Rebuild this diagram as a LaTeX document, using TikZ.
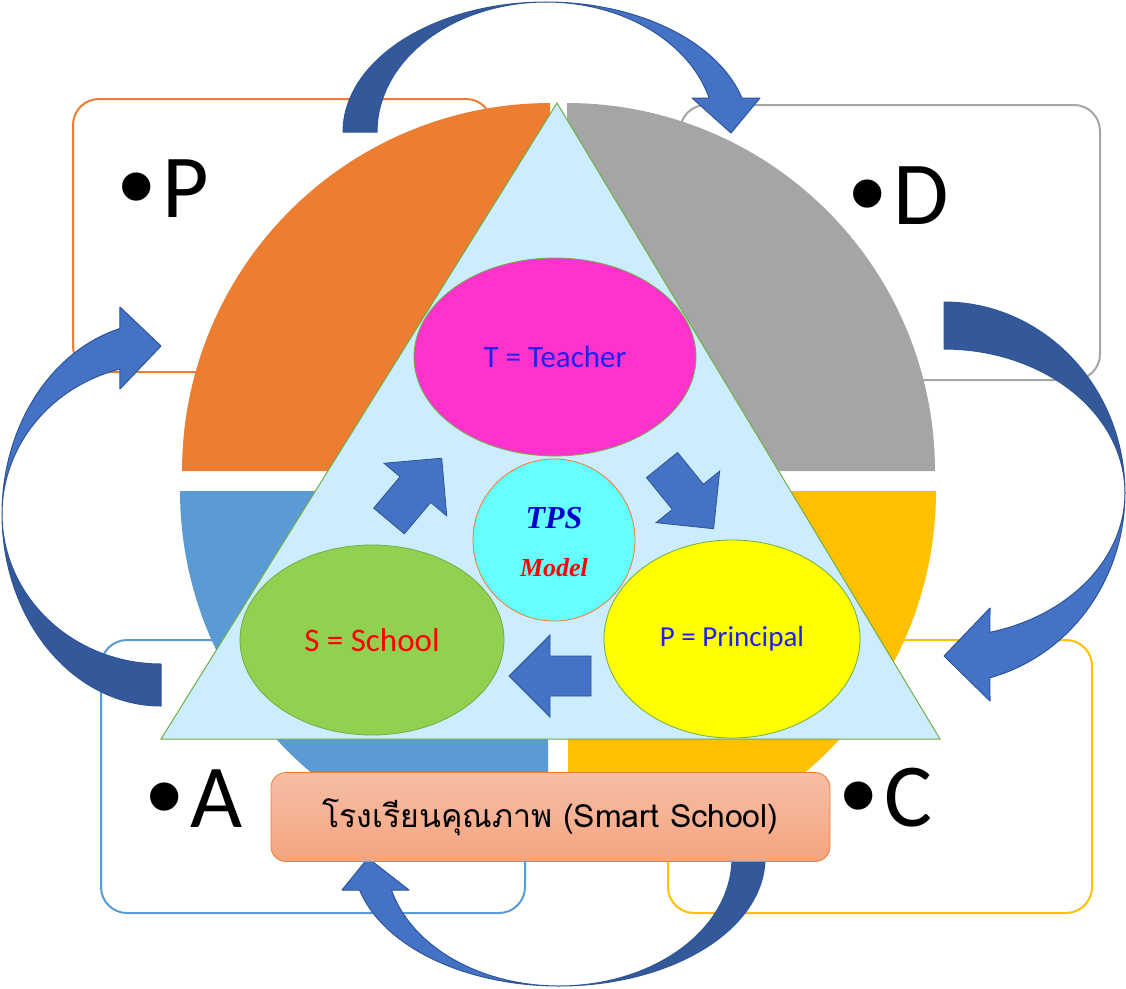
\documentclass[tikz,border=0pt]{standalone}
\usepackage{fontspec}
\setmainfont{Carlito}
\newfontfamily\thaifont[Script=Thai]{Loma}
\newfontfamily\bulfont{Liberation Sans}
\newfontfamily\tpsfont{Liberation Serif}
\usetikzlibrary{shapes.geometric}
\definecolor{cOrange}{HTML}{ED7D31}
\definecolor{cGray}{HTML}{A5A5A5}
\definecolor{cBlue}{HTML}{5B9BD5}
\definecolor{cGold}{HTML}{FFC000}
\definecolor{triFill}{HTML}{CCECFF}
\definecolor{triLine}{HTML}{70AD47}
\definecolor{tFill}{HTML}{FF33CC}
\definecolor{sFill}{HTML}{92D050}
\definecolor{pFill}{HTML}{FFFF00}
\definecolor{mFill}{HTML}{66FFFF}
\definecolor{arrLight}{HTML}{4472C4}
\definecolor{arrDark}{HTML}{34599A}
\definecolor{arrLine}{HTML}{2F5597}
\definecolor{blueText}{HTML}{2020F0}
\definecolor{redText}{HTML}{FF0000}
\definecolor{tpsBlue}{HTML}{0000CC}
\definecolor{smartTop}{HTML}{F7BEA6}
\definecolor{smartBot}{HTML}{F4A47F}
\newcommand\pdcabullet{{\bulfont\fontsize{104}{104}\selectfont\raisebox{-4.5pt}{•}}\kern8pt}
\tikzset{
  pdcabox/.style={line width=2pt, rounded corners=26pt, fill=white},
  bigdark/.style={fill=arrDark, draw=arrLine, line width=1pt, line join=round},
  biglight/.style={fill=arrLight, draw=arrLine, line width=1pt, line join=round},
  blockarr/.style={fill=arrLight, draw=arrLine, line width=0.8pt, line join=miter},
  bullettext/.style={anchor=base west, inner sep=0pt, font=\fontsize{90}{90}\selectfont},
  ell/.style={ellipse, draw=triLine, line width=0.8pt, inner sep=0pt}
}
\begin{document}
\begin{tikzpicture}[x=1pt,y=-1pt]
\useasboundingbox (0,0) rectangle (1126,988);
\fill[white] (0,0) rectangle (1126,988);

% PDCA boxes
\draw[pdcabox, draw=cOrange] (73,99) rectangle (492,372);
\draw[pdcabox, draw=cGray] (680,105) rectangle (1100,380);
\draw[pdcabox, draw=cBlue] (101,640) rectangle (525,913);
\draw[pdcabox, draw=cGold] (668,640) rectangle (1092,913);

% exploded pie quadrants
\fill[cOrange] (550,471) -- plot[domain=180:270,samples=60] ({550+368*cos(\x)},{471+368*sin(\x)}) -- cycle;
\fill[cGray] (567,471) -- plot[domain=270:360,samples=60] ({567+368*cos(\x)},{471+368*sin(\x)}) -- cycle;
\fill[cBlue] (548,491) -- plot[domain=180:90,samples=60] ({548+368*cos(\x)},{491+368*sin(\x)}) -- cycle;
\fill[cGold] (568,491) -- plot[domain=0:90,samples=60] ({568+368*cos(\x)},{491+368*sin(\x)}) -- cycle;

% big curved arrows: top (P -> D)
\filldraw[bigdark] plot[domain=180:270,samples=50] ({546+203*cos(\x)},{132+130*sin(\x)})
  -- plot[domain=270:180,samples=50] ({546+169*cos(\x)},{132+130*sin(\x)}) -- cycle;
\filldraw[biglight] plot[domain=270:344.84,samples=50] ({546+203*cos(\x)},{132+130*sin(\x)})
  -- (760,98) -- (731,133) -- (692,98)
  -- plot[domain=344.84:270,samples=50] ({546+169*cos(\x)},{132+130*sin(\x)}) -- cycle;

% right (D -> C)
\filldraw[bigdark] plot[domain=-90:0,samples=50] ({944+181*cos(\x)},{493+191*sin(\x)})
  -- plot[domain=0:-90,samples=50] ({944+181*cos(\x)},{493+144*sin(\x)}) -- cycle;
\filldraw[biglight] plot[domain=0:75.3,samples=50] ({944+181*cos(\x)},{493+191*sin(\x)})
  -- (990,701) -- (944,656) -- (990,608)
  -- plot[domain=75.3:0,samples=50] ({944+181*cos(\x)},{493+144*sin(\x)}) -- cycle;

% left (A -> P)
\filldraw[bigdark] plot[domain=90:180,samples=50] ({161+159*cos(\x)},{514+192*sin(\x)})
  -- plot[domain=180:90,samples=50] ({161+159*cos(\x)},{514+150*sin(\x)}) -- cycle;
\filldraw[biglight] plot[domain=180:255,samples=50] ({161+159*cos(\x)},{514+192*sin(\x)})
  -- (120,307) -- (161,346) -- (120,389)
  -- plot[domain=255:180,samples=50] ({161+159*cos(\x)},{514+150*sin(\x)}) -- cycle;

% triangle
\filldraw[fill=triFill, draw=triLine, line width=1pt] (557,103) -- (161,739) -- (940,739) -- cycle;

% ellipses
\node[ell, fill=tFill, minimum width=282, minimum height=198, font=\fontsize{31}{31}\selectfont, text=blueText] (T) at (555,357) {T = Teacher};
\node[ell, fill=sFill, minimum width=264, minimum height=190, font=\fontsize{33}{33}\selectfont, text=redText] (S) at (372,640) {S = School};
\node[ell, fill=pFill, minimum width=256, minimum height=198, font=\fontsize{29}{29}\selectfont, text=blueText] (P) at (732,639) {P = Principal};
\node[circle, fill=mFill, draw=cOrange, line width=0.8pt, minimum size=162, inner sep=0pt] (M) at (554,540) {};
\node[inner sep=0pt, text=tpsBlue, font=\tpsfont\bfseries\itshape\fontsize{32}{32}\selectfont] (tps) at (554,518) {TPS};
\node[inner sep=0pt, text=redText, font=\tpsfont\bfseries\itshape\fontsize{26}{26}\selectfont] (model) at (554,568) {Model};

% small block arrows between ellipses
\filldraw[blockarr, shift={(389,521)}, rotate=50] (0,-20) -- (41,-20) -- (41,-41) -- (82,0) -- (41,41) -- (41,20) -- (0,20) -- cycle;
\filldraw[blockarr, shift={(662,465)}, rotate=-51] (0,-20) -- (41,-20) -- (41,-41) -- (82,0) -- (41,41) -- (41,20) -- (0,20) -- cycle;
\filldraw[blockarr, shift={(591,676)}, rotate=180] (0,-20) -- (41,-20) -- (41,-41) -- (82,0) -- (41,41) -- (41,20) -- (0,20) -- cycle;

% bottom arrow (C -> A)
\filldraw[bigdark] plot[domain=0:90,samples=50] ({559+206*cos(\x)},{858+128*sin(\x)})
  -- plot[domain=90:0,samples=50] ({559+173*cos(\x)},{858+128*sin(\x)}) -- cycle;
\filldraw[biglight] plot[domain=90:165.52,samples=50] ({559+206*cos(\x)},{858+128*sin(\x)})
  -- (342,890) -- (368,858) -- (409,890)
  -- plot[domain=165.52:90,samples=50] ({559+173*cos(\x)},{858+128*sin(\x)}) -- cycle;

% smart school box
\node[rounded corners=15pt, top color=smartTop, bottom color=smartBot, draw=cOrange, line width=0.8pt,
      minimum width=559, minimum height=89, inner sep=0pt, font=\thaifont\fontsize{32}{32}\selectfont] (smart) at (550.5,817) {โรงเรียนคุณภาพ (Smart School)};

% PDCA labels
\node[bullettext] (lP) at (118,217) {\pdcabullet P};
\node[bullettext] (lD) at (849,224) {\pdcabullet D};
\node[bullettext] (lA) at (146,827) {\pdcabullet A};
\node[bullettext] (lC) at (840,826) {\pdcabullet C};
\end{tikzpicture}
\end{document}
